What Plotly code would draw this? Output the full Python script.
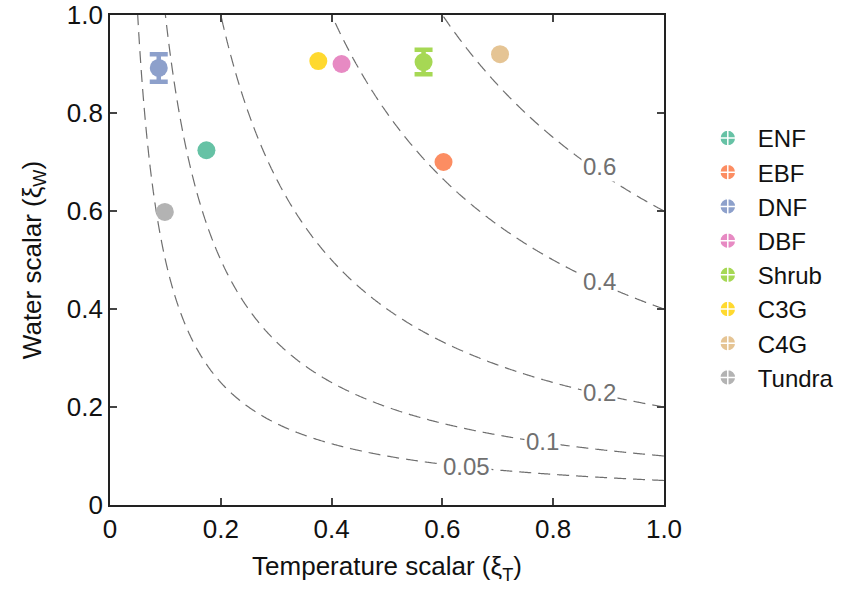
import numpy as np
import plotly.graph_objects as go

# plant functional types
pft = ["ENF", "EBF", "DNF", "DBF", "Shrub", "C3G", "C4G", "Tundra"]
colors = ["#66c2a5", "#fc8d62", "#8da0cb", "#e78ac3", "#a6d854", "#ffd92f", "#e5c494", "#b3b3b3"]
temp_scalar = [0.174, 0.602, 0.088, 0.418, 0.566, 0.376, 0.704, 0.099]
water_scalar = [0.724, 0.700, 0.892, 0.900, 0.904, 0.906, 0.920, 0.598]
water_err = [0, 0, 0.028, 0, 0.025, 0, 0, 0]

# isolines of xi_T * xi_W and where their labels sit
levels = [0.05, 0.1, 0.2, 0.4, 0.6]
label_x = [0.643, 0.781, 0.884, 0.884, 0.884]
label_y = [0.078, 0.129, 0.229, 0.457, 0.690]

ticks = [0, 0.2, 0.4, 0.6, 0.8, 1.0]
tick_text = ["0", "0.2", "0.4", "0.6", "0.8", "1.0"]

grid = np.linspace(0.001, 1, 400)
z = np.outer(grid, grid)

fig = go.Figure()
for lv in levels:
    fig.add_trace(go.Contour(
        x=grid, y=grid, z=z, showscale=False, hoverinfo="skip",
        contours=dict(start=lv, end=lv, size=1, coloring="none"),
        line=dict(color="#6e6e6e", width=1.2, dash="12px,7px"),
        showlegend=False,
    ))

for lv, lx, ly in zip(levels, label_x, label_y):
    fig.add_annotation(x=lx, y=ly, text=str(lv), showarrow=False,
                       font=dict(size=24, color="#707070"), bgcolor="white",
                       borderpad=1)

for name, c, x, y, ey in zip(pft, colors, temp_scalar, water_scalar, water_err):
    fig.add_trace(go.Scatter(
        x=[x], y=[y], mode="markers", name=name, showlegend=False,
        marker=dict(size=18, color=c),
        error_y=dict(type="data", array=[ey], color=c, thickness=4.5, width=9, visible=ey > 0),
    ))
    # legend entry drawn as a circle with a cross, like the errorbar glyph
    fig.add_trace(go.Scatter(
        x=[None], y=[None], mode="markers", name=name,
        marker=dict(size=22, color=c, symbol="circle-cross", line=dict(color="white", width=1.5)),
    ))

axis_common = dict(
    range=[0, 1], tickvals=ticks, ticktext=tick_text, ticks="inside", ticklen=7,
    tickwidth=1.5, showline=True, linecolor="#222", linewidth=1.8, mirror="ticks",
    showgrid=False, zeroline=False, tickfont=dict(size=26, color="#111"),
    automargin=False, ticklabeloverflow="allow",
)

fig.update_layout(
    width=851, height=600,
    paper_bgcolor="white", plot_bgcolor="white",
    font=dict(family="Liberation Sans, Arial, sans-serif", color="#111"),
    margin=dict(l=110, r=183, t=15, b=95),
    xaxis=dict(axis_common, title=dict(text="Temperature scalar (ξ<sub>T</sub>)", font=dict(size=26), standoff=14)),
    yaxis=dict(axis_common, title=dict(text="Water scalar (ξ<sub>W</sub>)", font=dict(size=26), standoff=18)),
    legend=dict(x=1.061, y=0.794, xanchor="left", yanchor="top", font=dict(size=24),
                itemwidth=50, tracegroupgap=0, bgcolor="rgba(0,0,0,0)"),
)

# drop the default 8px body margin so the figure sits at the page corner
fig.write_html("out.html", config={"displayModeBar": False},
               post_script="document.body.style.margin='0';")
